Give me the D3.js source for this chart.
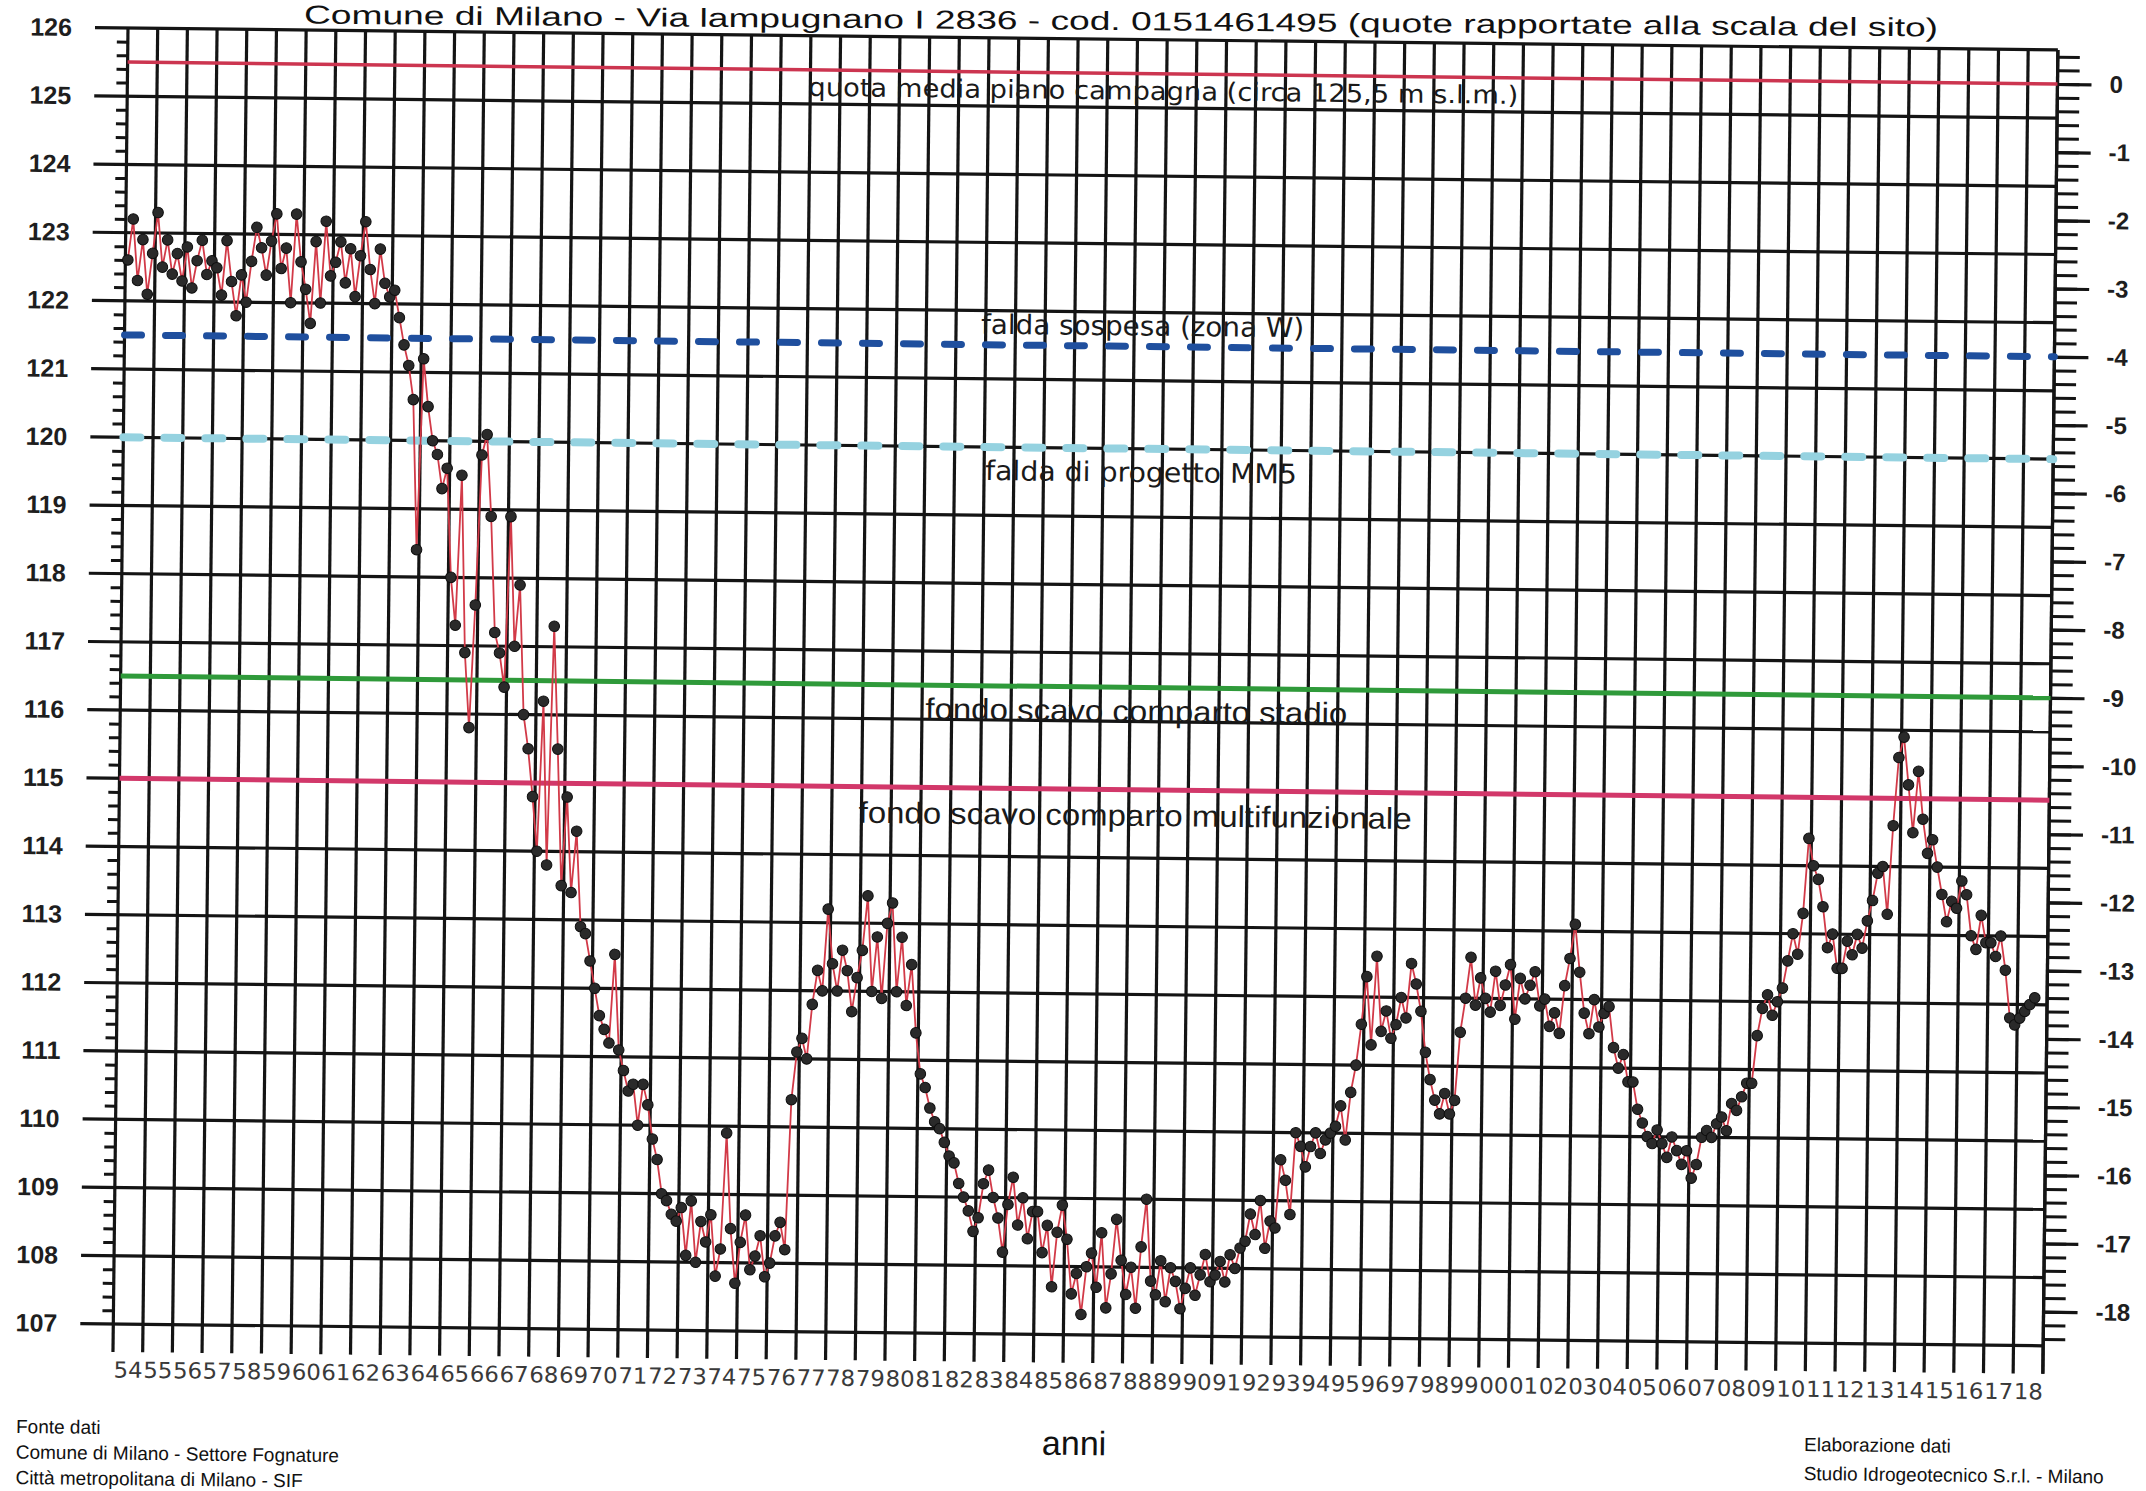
<!DOCTYPE html>
<html>
<head>
<meta charset="utf-8">
<script src="https://cdn.jsdelivr.net/npm/d3@7"></script>
<style>
  html, body { margin: 0; background: #ffffff; }
  svg { display: block; }
</style>
</head>
<body>
<svg id="chart" width="2146" height="1491"></svg>
<script>
// Livelli di falda (m s.l.m.), una lettura ogni due mesi, per decennio
const liv1954 = [
  122.6, 123.2, 122.3, 122.9, 122.1, 122.7,
  123.3, 122.5, 122.9, 122.4, 122.7, 122.3,
  122.8, 122.2, 122.6, 122.9, 122.4, 122.6,
  122.5, 122.1, 122.9, 122.3, 121.8, 122.4,
  122.0, 122.6, 123.1, 122.8, 122.4, 122.9,
  123.3, 122.5, 122.8, 122.0, 123.3, 122.6,
  122.2, 121.7, 122.9, 122.0, 123.2, 122.4,
  122.6, 122.9, 122.3, 122.8, 122.1, 122.7,
  123.2, 122.5, 122.0, 122.8, 122.3, 122.1,
  122.2, 121.8, 121.4, 121.1, 120.6, 118.4
];
const liv1964 = [
  121.2, 120.5, 120.0, 119.8, 119.3, 119.6,
  118.0, 117.3, 119.5, 116.9, 115.8, 117.6,
  119.8, 120.1, 118.9, 117.2, 116.9, 116.4,
  118.9, 117.0, 117.9, 116.0, 115.5, 114.8,
  114.0, 116.2, 113.8, 117.3, 115.5, 113.5,
  114.8, 113.4, 114.3, 112.9, 112.8, 112.4,
  112.0, 111.6, 111.4, 111.2, 112.5, 111.1,
  110.8, 110.5, 110.6, 110.0, 110.6, 110.3,
  109.8, 109.5, 109.0, 108.9, 108.7, 108.6,
  108.8, 108.1, 108.9, 108.0, 108.6, 108.3
];
const liv1974 = [
  108.7, 107.8, 108.2, 109.9, 108.5, 107.7,
  108.3, 108.7, 107.9, 108.1, 108.4, 107.8,
  108.0, 108.4, 108.6, 108.2, 110.4, 111.1,
  111.3, 111.0, 111.8, 112.3, 112.0, 113.2,
  112.4, 112.0, 112.6, 112.3, 111.7, 112.2,
  112.6, 113.4, 112.0, 112.8, 111.9, 113.0,
  113.3, 112.0, 112.8, 111.8, 112.4, 111.4,
  110.8, 110.6, 110.3, 110.1, 110.0, 109.8,
  109.6, 109.5, 109.2, 109.0, 108.8, 108.5,
  108.7, 109.2, 109.4, 109.0, 108.7, 108.2
];
const liv1984 = [
  108.9, 109.3, 108.6, 109.0, 108.4, 108.8,
  108.8, 108.2, 108.6, 107.7, 108.5, 108.9,
  108.4, 107.6, 107.9, 107.3, 108.0, 108.2,
  107.7, 108.5, 107.4, 107.9, 108.7, 108.1,
  107.6, 108.0, 107.4, 108.3, 109.0, 107.8,
  107.6, 108.1, 107.5, 108.0, 107.8, 107.4,
  107.7, 108.0, 107.6, 107.9, 108.2, 107.8,
  107.9, 108.1, 107.8, 108.2, 108.0, 108.3,
  108.4, 108.8, 108.5, 109.0, 108.3, 108.7,
  108.6, 109.6, 109.3, 108.8, 110.0, 109.8
];
const liv1994 = [
  109.5, 109.8, 110.0, 109.7, 109.9, 110.0,
  110.1, 110.4, 109.9, 110.6, 111.0, 111.6,
  112.3, 111.3, 112.6, 111.5, 111.8, 111.4,
  111.6, 112.0, 111.7, 112.5, 112.2, 111.8,
  111.2, 110.8, 110.5, 110.3, 110.6, 110.3,
  110.5, 111.5, 112.0, 112.6, 111.9, 112.3,
  112.0, 111.8, 112.4, 111.9, 112.2, 112.5,
  111.7, 112.3, 112.0, 112.2, 112.4, 111.9,
  112.0, 111.6, 111.8, 111.5, 112.2, 112.6,
  113.1, 112.4, 111.8, 111.5, 112.0, 111.6
];
const liv2004 = [
  111.8, 111.9, 111.3, 111.0, 111.2, 110.8,
  110.8, 110.4, 110.2, 110.0, 109.9, 110.1,
  109.9, 109.7, 110.0, 109.8, 109.6, 109.8,
  109.4, 109.6, 110.0, 110.1, 110.0, 110.2,
  110.3, 110.1, 110.5, 110.4, 110.6, 110.8,
  110.8, 111.5, 111.9, 112.1, 111.8, 112.0,
  112.2, 112.6, 113.0, 112.7, 113.3, 114.4,
  114.0, 113.8, 113.4, 112.8, 113.0, 112.5,
  112.5, 112.9, 112.7, 113.0, 112.8, 113.2,
  113.5, 113.9, 114.0, 113.3, 114.6, 115.6
];
const liv2014 = [
  115.9, 115.2, 114.5, 115.4, 114.7, 114.2,
  114.4, 114.0, 113.6, 113.2, 113.5, 113.4,
  113.8, 113.6, 113.0, 112.8, 113.3, 112.9,
  112.9, 112.7, 113.0, 112.5, 111.8, 111.7,
  111.8, 111.9, 112.0, 112.1
];

// Etichette degli anni (asse orizzontale)
const anni = d3.range(1954, 2019);
const etichetteAnni = anni.map(a => String(a).slice(2));

// Assi verticali: quote assolute a sinistra, profondità dal piano campagna a destra
const quotaMin = 107, quotaMax = 126;
const quotaCampagna = 125.5;
const profondita = d3.range(0, -19, -1);

// Linee di riferimento
const riferimenti = [
  { nome: "campagna", quota: 125.5, testo: "quota media piano campagna (circa 125,5 m s.l.m.)" },
  { nome: "sospesa", quota: 121.5, testo: "falda sospesa (zona W)" },
  { nome: "progetto", quota: 120.0, testo: "falda di progetto MM5" },
  { nome: "stadio", quota: 116.5, testo: "fondo scavo comparto stadio" },
  { nome: "multi", quota: 115.0, testo: "fondo scavo comparto multifunzionale" }
];

// ---------------------------------------------------------------------------
const svg = d3.select("#chart");
const W = 1930, H = 1296;
const angolo = 0.65;
const ink = "#141414";

const x = d3.scaleLinear().domain([1954, 2019]).range([0, W]);
const y = d3.scaleLinear().domain([quotaMin, quotaMax]).range([H, 0]);
const yDx = d3.scaleLinear().domain([quotaMin - quotaCampagna, quotaMax - quotaCampagna]).range([H, 0]);

// serie completa: letture a passo di due mesi
const blocchi = [[1954, liv1954], [1964, liv1964], [1974, liv1974], [1984, liv1984],
                 [1994, liv1994], [2004, liv2004], [2014, liv2014]];
const serie = [];
blocchi.forEach(([inizio, valori]) => {
  valori.forEach((v, i) => serie.push({ t: inizio + (i + 0.5) / 6, v }));
});

const g = svg.append("g").attr("transform", `translate(128,28) rotate(${angolo})`);

// griglia orizzontale (ogni metro)
g.append("g").selectAll("line")
  .data(d3.range(quotaMin, quotaMax + 1))
  .join("line")
  .attr("x1", -33).attr("x2", W)
  .attr("y1", d => y(d)).attr("y2", d => y(d))
  .attr("stroke", ink).attr("stroke-width", 3.2);

// griglia verticale (ogni anno), prolungata sotto l'asse
g.append("g").selectAll("line")
  .data(d3.range(1954, 2020))
  .join("line")
  .attr("x1", d => x(d)).attr("x2", d => x(d))
  .attr("y1", 0).attr("y2", H + 28)
  .attr("stroke", ink).attr("stroke-width", 3.2);

// asse sinistro: tacche secondarie ogni 0,2 m
const minori = d3.range(quotaMin * 5, quotaMax * 5 + 1).map(d => d / 5).filter(d => Math.abs(d - Math.round(d)) > 1e-6);
const axL = g.append("g")
  .call(d3.axisLeft(y).tickValues(minori).tickSize(11).tickFormat(""));
axL.select(".domain").remove();
axL.selectAll("line").attr("stroke", ink).attr("stroke-width", 3);

const axLmaj = g.append("g")
  .call(d3.axisLeft(y).tickValues(d3.range(quotaMin, quotaMax + 1)).tickSize(0).tickPadding(56).tickFormat(d3.format("d")));
axLmaj.select(".domain").remove();
axLmaj.selectAll("text")
  .attr("font-family", "Liberation Sans, Arial, sans-serif")
  .attr("font-weight", "bold")
  .attr("font-size", 25)
  .attr("fill", "#1e1e1e");

// asse destro: profondità dal piano campagna
const axR = g.append("g").attr("transform", `translate(${W},0)`)
  .call(d3.axisRight(yDx).tickValues(d3.range(-92, 3).map(d => d / 5)).tickSize(22).tickFormat(""));
axR.select(".domain").attr("stroke", ink).attr("stroke-width", 3.2)
  .attr("d", `M0,${yDx(0.5)}V${H + 28}`);
axR.selectAll("line").attr("stroke", ink).attr("stroke-width", 3);

const axRmaj = g.append("g").attr("transform", `translate(${W},0)`)
  .call(d3.axisRight(yDx).tickValues(profondita).tickSize(34).tickPadding(18).tickFormat(d => d === 0 ? "0" : "-" + Math.abs(d)));
axRmaj.select(".domain").remove();
axRmaj.selectAll("line").attr("stroke", ink).attr("stroke-width", 3.2);
axRmaj.selectAll("text")
  .attr("font-family", "Liberation Sans, Arial, sans-serif")
  .attr("font-weight", "bold")
  .attr("font-size", 24)
  .attr("fill", "#1e1e1e");

// etichette anni
const axB = g.append("g").attr("transform", `translate(0,${H})`)
  .call(d3.axisBottom(x).tickValues(anni.map(a => a + 0.5)).tickSize(0).tickPadding(38)
    .tickFormat((d, i) => etichetteAnni[i]));
axB.select(".domain").remove();
axB.selectAll("text")
  .attr("font-family", "DejaVu Sans Condensed, DejaVu Sans, sans-serif")
  .attr("font-size", 22)
  .attr("fill", "#3a3a3a")
  .attr("textLength", 29)
  .attr("lengthAdjust", "spacingAndGlyphs");

// linee di riferimento
const stile = {
  campagna: { stroke: "#cc3550", width: 3.5, dash: null },
  sospesa: { stroke: "#1f4f9e", width: 7, dash: "17 24" },
  progetto: { stroke: "#95d2e0", width: 8, dash: "17 24" },
  stadio: { stroke: "#2f9a3a", width: 5, dash: null },
  multi: { stroke: "#d2386a", width: 5, dash: null }
};
g.append("g").selectAll("line")
  .data(riferimenti)
  .join("line")
  .attr("x1", 0).attr("x2", W)
  .attr("y1", d => y(d.quota)).attr("y2", d => y(d.quota))
  .attr("stroke", d => stile[d.nome].stroke)
  .attr("stroke-width", d => stile[d.nome].width)
  .attr("stroke-dasharray", d => stile[d.nome].dash)
  .attr("stroke-linecap", d => stile[d.nome].dash ? "round" : "butt");

// testi delle linee di riferimento
const testi = {
  campagna: { cx: 1036, dy: 26, size: 25, len: 710, font: "DejaVu Sans Condensed, DejaVu Sans, sans-serif" },
  sospesa: { cx: 1018, dy: -11, size: 27, len: 323, font: "DejaVu Sans Condensed, DejaVu Sans, sans-serif" },
  progetto: { cx: 1018, dy: 33, size: 27, len: 312, font: "DejaVu Sans Condensed, DejaVu Sans, sans-serif" },
  stadio: { cx: 1016, dy: 34, size: 30, len: 422, font: "Liberation Sans, Arial, sans-serif" },
  multi: { cx: 1016, dy: 36, size: 30, len: 553, font: "Liberation Sans, Arial, sans-serif" }
};
g.append("g").selectAll("text")
  .data(riferimenti)
  .join("text")
  .attr("x", d => testi[d.nome].cx)
  .attr("y", d => y(d.quota) + testi[d.nome].dy)
  .attr("text-anchor", "middle")
  .attr("font-family", d => testi[d.nome].font)
  .attr("font-size", d => testi[d.nome].size)
  .attr("textLength", d => testi[d.nome].len)
  .attr("lengthAdjust", "spacingAndGlyphs")
  .attr("fill", "#1a1a1a")
  .text(d => d.testo);

// serie dei livelli
const linea = d3.line().x(d => x(d.t)).y(d => y(d.v));
g.append("path")
  .datum(serie)
  .attr("d", linea)
  .attr("fill", "none")
  .attr("stroke", "#d23a48")
  .attr("stroke-width", 1.8);

g.append("g").selectAll("circle")
  .data(serie)
  .join("circle")
  .attr("cx", d => x(d.t))
  .attr("cy", d => y(d.v))
  .attr("r", 5.3)
  .attr("fill", "#2a2a2a")
  .attr("stroke", "#0e0e0e")
  .attr("stroke-width", 1);

// titolo e note a piè di pagina
const font = "Liberation Sans, Arial, sans-serif";
svg.append("text")
  .attr("transform", "translate(1121,30) rotate(0.45)")
  .attr("text-anchor", "middle")
  .attr("font-family", font).attr("font-size", 26)
  .attr("textLength", 1634).attr("lengthAdjust", "spacingAndGlyphs")
  .attr("fill", "#111")
  .text("Comune di Milano - Via lampugnano I 2836 - cod. 0151461495 (quote rapportate alla scala del sito)");

svg.append("text")
  .attr("transform", "translate(1074,1455) rotate(0.65)")
  .attr("text-anchor", "middle")
  .attr("font-family", font).attr("font-size", 34)
  .attr("fill", "#111")
  .text("anni");

const fonte = ["Fonte dati", "Comune di Milano - Settore Fognature", "Città metropolitana di Milano - SIF"];
svg.append("g").attr("transform", "translate(16,1433) rotate(0.65)")
  .selectAll("text").data(fonte).join("text")
  .attr("x", 0).attr("y", (d, i) => i * 25.5)
  .attr("font-family", font).attr("font-size", 19)
  .attr("fill", "#111")
  .text(d => d);

const elaborazione = ["Elaborazione dati", "Studio Idrogeotecnico S.r.l. - Milano"];
svg.append("g").attr("transform", "translate(1804,1451) rotate(0.65)")
  .selectAll("text").data(elaborazione).join("text")
  .attr("x", 0).attr("y", (d, i) => i * 29)
  .attr("font-family", font).attr("font-size", 19)
  .attr("fill", "#111")
  .text(d => d);
</script>
</body>
</html>
